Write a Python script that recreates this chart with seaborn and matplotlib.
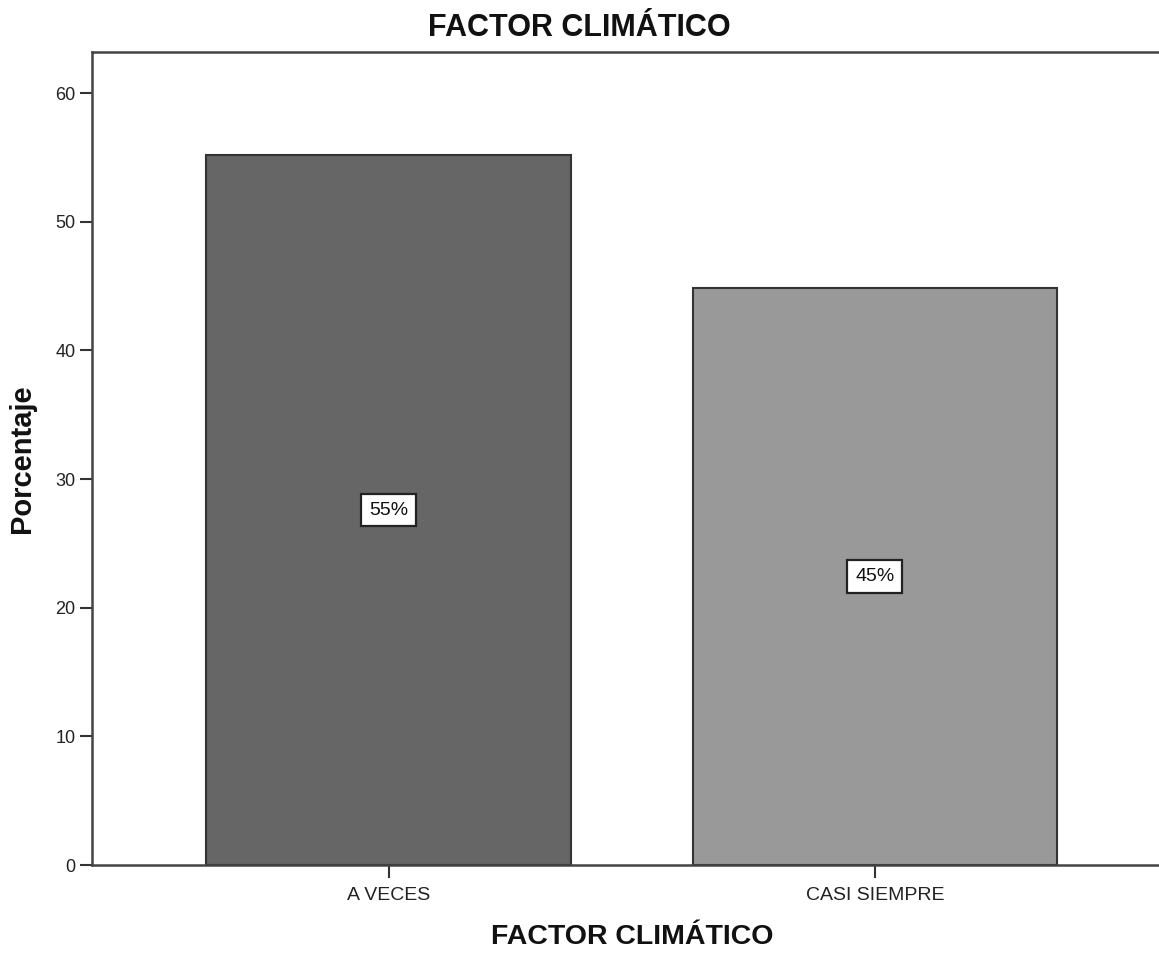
import matplotlib
matplotlib.use("Agg")
import matplotlib.pyplot as plt
import seaborn as sns
import pandas as pd

categories = ["A VECES", "CASI SIEMPRE"]
percentages = [55.17, 44.83]
bar_colors = ["#666666", "#999999"]

sns.set_theme(style="white")
plt.rcParams["font.family"] = ["Liberation Sans", "DejaVu Sans"]

df = pd.DataFrame({"categoria": categories, "porcentaje": percentages})

fig = plt.figure(figsize=(11.59, 9.55), dpi=100)
ax = fig.add_axes([0.0794, 0.0942, 0.9230, 0.8513])

sns.barplot(data=df, x="categoria", y="porcentaje", hue="categoria",
            palette=bar_colors, width=0.75, edgecolor="#333333",
            linewidth=1.5, legend=False, ax=ax)

for i, v in enumerate(percentages):
    ax.text(i, v / 2, f"{v:.0f}%", ha="center", va="center", fontsize=14,
            color="#111111",
            bbox=dict(boxstyle="square,pad=0.4", facecolor="white",
                      edgecolor="#222222", linewidth=1.6))

ax.set_ylim(0, 63.2)
ax.set_xlim(-0.61, 1.59)
ax.set_yticks([0, 10, 20, 30, 40, 50, 60])
ax.tick_params(axis="both", direction="out", length=9, width=1.5,
               color="#333333", labelsize=13, labelcolor="#222222",
               left=True, bottom=True)
ax.tick_params(axis="x", labelsize=14, pad=7)
ax.tick_params(axis="y", pad=3)
for side in ["left", "top", "bottom", "right"]:
    ax.spines[side].set_color("#444444")
    ax.spines[side].set_linewidth(1.8)

ax.set_xlabel("FACTOR CLIMÁTICO", fontsize=20.5, fontweight="bold",
              color="#111111")
ax.xaxis.set_label_coords(0.505, -0.073)
ax.set_ylabel("Porcentaje", fontsize=21, fontweight="bold",
              color="#111111", labelpad=14)
fig.text(0.5, 0.971, "FACTOR CLIMÁTICO", ha="center", va="center",
         fontsize=22, fontweight="bold", color="#111111")

fig.savefig("out.png", dpi=100, facecolor="white")
